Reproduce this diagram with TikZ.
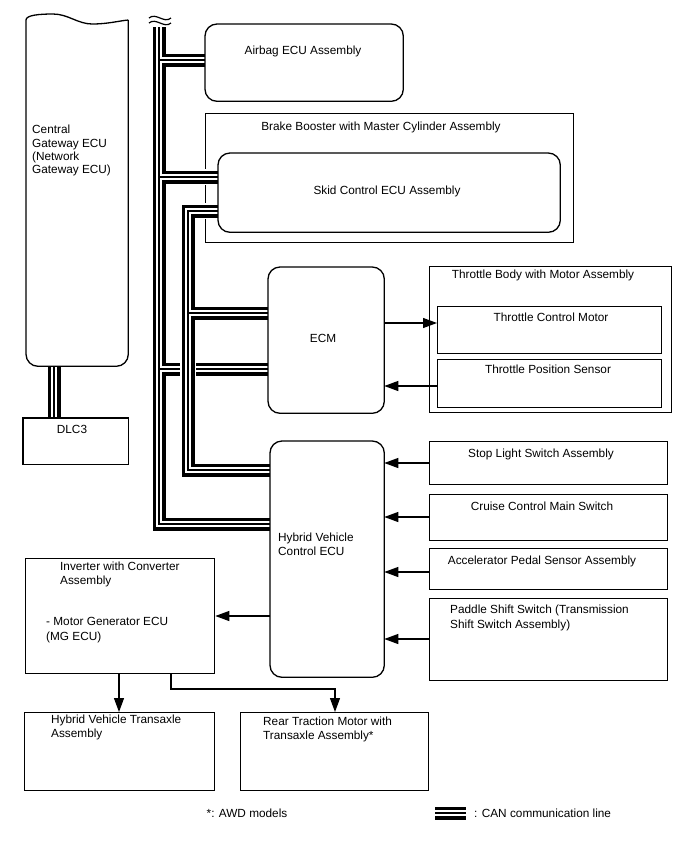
\documentclass[tikz,border=0pt]{standalone}
\usepackage{fontspec}
\setmainfont{Liberation Sans}
\usetikzlibrary{arrows.meta}
\newcommand\fsz{\fontsize{11.8}{14}\selectfont}
\begin{document}
\begin{tikzpicture}[x=1pt,y=-1pt,
  bline/.style={line width=1.3pt, line join=round},
  box/.style={draw, line width=1.3pt, inner sep=0pt, anchor=north west},
  rbox/.style={box, rounded corners=12pt},
  lbl/.style={inner sep=0pt, font=\fsz, align=left},
  arr/.style={line width=1.2pt, -{Triangle[length=14pt,width=10pt]}},
  canhalo/.style={line width=16.5pt, white},
  canblk/.style={line width=13pt, black},
  canwht/.style={line width=6pt, white},
  canthin/.style={line width=1.8pt, black},
]
\useasboundingbox (0,0) rectangle (688,852);

% box drawn below the CAN lines
\node[box, minimum width=368pt, minimum height=129pt] (brake) at (205,113) {};

% placeholders for boxes, outlines drawn later
\node[rbox, draw=none, minimum width=197pt, minimum height=76pt] (airbag) at (205,24) {};
\node[rbox, draw=none, minimum width=341pt, minimum height=78pt] (skid) at (218,153) {};
\node[rbox, draw=none, minimum width=115pt, minimum height=145pt] (ecm) at (268,267) {};
\node[rbox, draw=none, minimum width=113pt, minimum height=235pt] (hv) at (270,441) {};
\node[box, draw=none, minimum width=101pt, minimum height=345pt] (gw) at (26,20) {};
\node[box, draw=none, minimum width=104pt, minimum height=45pt] (dlc) at (23,418) {};

% CAN coordinates
\coordinate (b1top) at (159,27);
\coordinate (b1bot) at (159,524);
\coordinate (j1) at (159,60);
\coordinate (j2) at (159,177);
\coordinate (j3) at (159,369);
\coordinate (b2a) at (188,211);
\coordinate (b2b) at (188,470);
\coordinate (j4) at (188,313);
\coordinate (dl) at (54,0);
\coordinate (lg1) at (435,813);
\coordinate (lg2) at (466,813);

% bus 1
\foreach \ly in {canhalo,canblk,canwht,canthin}{
  \draw[\ly] (b1top) -- (b1bot) -- (b1bot -| hv.west);
  \draw[\ly] (j1) -- (j1 -| airbag.west);
  \draw[\ly] (j2) -- (j2 -| skid.west);
  \draw[\ly] (j3) -- (j3 -| ecm.west);
}
% bus 2
\foreach \ly in {canhalo,canblk,canwht,canthin}{
  \draw[\ly] (b2a -| skid.west) -- (b2a) -- (b2b) -- (b2b -| hv.west);
  \draw[\ly] (j4) -- (j4 -| ecm.west);
}
% gateway - DLC3 and legend sample
\foreach \ly in {canblk,canwht,canthin}{
  \draw[\ly] (dl |- gw.south) -- (dl |- dlc.north);
  \draw[\ly] (lg1) -- (lg2);
}
% break marks
\coordinate (t1) at (149,18);
\coordinate (t2) at (171,18);
\coordinate (t3) at (149,23);
\coordinate (t4) at (171,23);
\draw[line width=1.2pt] (t1) .. controls (156,12) and (164,24) .. (t2);
\draw[line width=1.2pt] (t3) .. controls (156,17) and (164,29) .. (t4);

% box outlines
\draw[line width=1.3pt, rounded corners=12pt] (airbag.north west) rectangle (airbag.south east);
\draw[line width=1.3pt, rounded corners=12pt] (skid.north west) rectangle (skid.south east);
\draw[line width=1.3pt, rounded corners=12pt] (ecm.north west) rectangle (ecm.south east);
\draw[line width=1.3pt, rounded corners=12pt] (hv.north west) rectangle (hv.south east);
\draw[line width=1.3pt] (dlc.north west) rectangle (dlc.south east);
% gateway with broken top
\draw[bline, rounded corners=12pt] (gw.north east) -- (gw.south east) -- (gw.south west) -- (gw.north west);
\draw[bline] (gw.north west) .. controls (26,15) and (40,14) .. (53,14) .. controls (68,14) and (78,24) .. (92,24) .. controls (108,24) and (118,21) .. (gw.north east);

\node[box, minimum width=242pt, minimum height=146pt] (thb) at (429,266) {};
\node[box, minimum width=224pt, minimum height=47pt] (tcm) at (437,306) {};
\node[box, minimum width=224pt, minimum height=48pt] (tps) at (437,359) {};
\node[box, minimum width=238pt, minimum height=43pt] (stop) at (429,441) {};
\node[box, minimum width=238pt, minimum height=46pt] (cruise) at (429,494) {};
\node[box, minimum width=238pt, minimum height=41pt] (accel) at (429,548) {};
\node[box, minimum width=238pt, minimum height=82pt] (paddle) at (429,598) {};
\node[box, minimum width=189pt, minimum height=115pt] (inv) at (25,558) {};
\node[box, minimum width=190pt, minimum height=78pt] (hvta) at (24,712) {};
\node[box, minimum width=188pt, minimum height=78pt] (rear) at (240,712) {};

% arrows
\coordinate (y1) at (0,323);
\coordinate (y2) at (0,386);
\coordinate (y3) at (0,463);
\coordinate (y4) at (0,517);
\coordinate (y5) at (0,572);
\coordinate (y6) at (0,639);
\coordinate (y7) at (0,616);
\coordinate (x1) at (119,0);
\coordinate (x2) at (171,0);
\coordinate (x3) at (335,689);
\draw[arr] (ecm.east |- y1) -- (tcm.west |- y1);
\draw[arr] (tps.west |- y2) -- (ecm.east |- y2);
\draw[arr] (stop.west |- y3) -- (hv.east |- y3);
\draw[arr] (cruise.west |- y4) -- (hv.east |- y4);
\draw[arr] (accel.west |- y5) -- (hv.east |- y5);
\draw[arr] (paddle.west |- y6) -- (hv.east |- y6);
\draw[arr] (hv.west |- y7) -- (inv.east |- y7);
\draw[arr] (x1 |- inv.south) -- (x1 |- hvta.north);
\draw[arr] (x2 |- inv.south) -- (x2 |- x3) -- (x3) -- (x3 |- rear.north);

% labels
\node[lbl, anchor=base] (tairbag) at (303,54.2) {Airbag ECU Assembly};
\node[lbl, anchor=base] (tbrake) at (381,130) {Brake Booster with Master Cylinder Assembly};
\node[lbl, anchor=base] (tskid) at (387,194) {Skid Control ECU Assembly};
\node[lbl, anchor=base] (tecm) at (323,342) {ECM};
\node[lbl, anchor=base] (tthb) at (543,278) {Throttle Body with Motor Assembly};
\node[lbl, anchor=base] (ttcm) at (551,321) {Throttle Control Motor};
\node[lbl, anchor=base] (ttps) at (548,373) {Throttle Position Sensor};
\node[lbl, anchor=base] (tstop) at (541,457) {Stop Light Switch Assembly};
\node[lbl, anchor=base] (tcruise) at (542,510) {Cruise Control Main Switch};
\node[lbl, anchor=base] (taccel) at (542,564) {Accelerator Pedal Sensor Assembly};
\node[lbl, anchor=base] (tdlc) at (72,433) {DLC3};
\node[lbl, anchor=north west, font=\fontsize{11.8}{15}\selectfont] (tpaddle) at (450,605) {Paddle Shift Switch (Transmission\\Shift Switch Assembly)};
\node[lbl, anchor=north west] (thv) at (278,533) {Hybrid Vehicle\\Control ECU};
\node[lbl, anchor=north west, font=\fontsize{11.8}{13.4}\selectfont] (tgw) at (32,125) {Central\\Gateway ECU\\(Network\\Gateway ECU)};
\node[lbl, anchor=north west] (tinv1) at (60,562) {Inverter with Converter\\Assembly};
\node[lbl, anchor=north west, font=\fontsize{11.8}{15}\selectfont] (tinv2) at (46,617) {- Motor Generator ECU\\(MG ECU)};
\node[lbl, anchor=north west] (thvta) at (51,715) {Hybrid Vehicle Transaxle\\Assembly};
\node[lbl, anchor=north west] (trear) at (263,717) {Rear Traction Motor with\\Transaxle Assembly*};
\node[lbl, anchor=base] (tawd) at (247,817) {*: AWD models};
\node[lbl, anchor=base west] (tlegend) at (474,817) {: CAN communication line};
\end{tikzpicture}
\end{document}
